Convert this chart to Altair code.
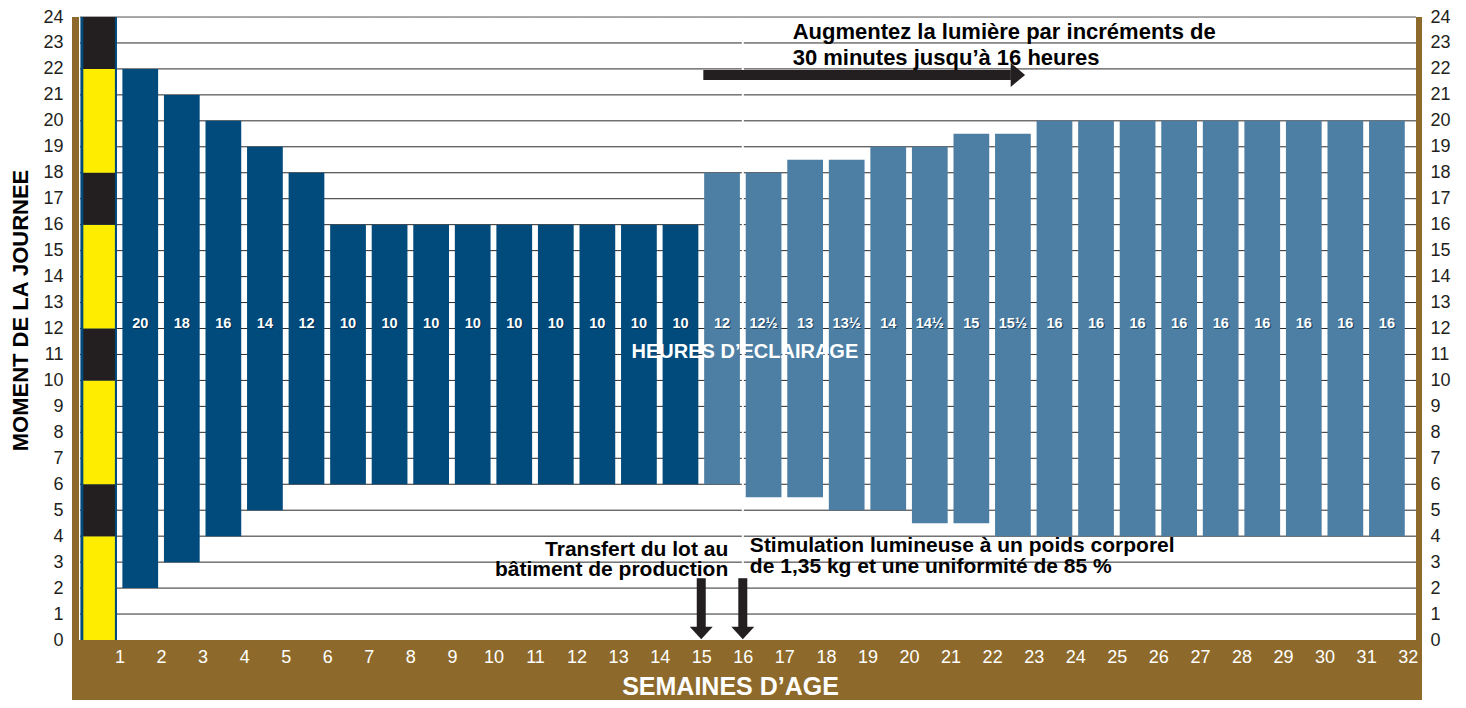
import altair as alt
import pandas as pd

# ---------------- data ----------------
weeks = list(range(1, 32))
light_on = [2, 3, 4, 5, 6, 6, 6, 6, 6, 6, 6, 6, 6, 6,
            6, 5.5, 5.5, 5, 5, 4.5, 4.5, 4,
            4, 4, 4, 4, 4, 4, 4, 4, 4]
light_off = [22, 21, 20, 19, 18, 16, 16, 16, 16, 16, 16, 16, 16, 16,
             18, 18, 18.5, 18.5, 19, 19, 19.5, 19.5,
             20, 20, 20, 20, 20, 20, 20, 20, 20]
hours_text = ["20", "18", "16", "14", "12", "10", "10", "10", "10", "10", "10", "10", "10", "10",
              "12", "12½", "13", "13½", "14", "14½", "15", "15½",
              "16", "16", "16", "16", "16", "16", "16", "16", "16"]
phase = ["Élevage"] * 14 + ["Production"] * 17

day_start = [0, 4, 6, 10, 12, 16, 18, 22]
day_end = [4, 6, 10, 12, 16, 18, 22, 24]
day_kind = ["jour", "nuit", "jour", "nuit", "jour", "nuit", "jour", "nuit"]

week_ticks = list(range(1, 33))
hour_ticks = list(range(0, 25))
grid_hours = list(range(1, 24))

top_note = ["Augmentez la lumière par incréments de", "30 minutes jusqu’à 16 heures"]
transfer_note = ["Transfert du lot au", "bâtiment de production"]
stim_note = ["Stimulation lumineuse à un poids corporel", "de 1,35 kg et une uniformité de 85 %"]

# ---------------- style ----------------
FONT = "Liberation Sans"
DARK = "#004A7C"
LIGHT = "#4D7FA5"
YELLOW = "#FFED00"
BLACK = "#231F20"
BROWN = "#8D6A2B"
BG = "#D9E0E7"

PLOT_W, PLOT_H = 1336, 623
X_MIN, X_MAX = 0.05, 32.2
Y_MIN, Y_MAX = 0, 24
xs = alt.Scale(domain=[X_MIN, X_MAX], nice=False, zero=False)
ys = alt.Scale(domain=[Y_MIN, Y_MAX], nice=False, zero=False)

x_axis = alt.Axis(values=week_ticks, format="d", labelColor="white", labelFont=FONT,
                  labelFontSize=18, labelPadding=17, labelBaseline="middle",
                  ticks=False, tickSize=0, domain=False, grid=False, labelFlush=False,
                  labelOverlap=False, zindex=2,
                  title="SEMAINES D’AGE", titleColor="white", titleFont=FONT,
                  titleFontSize=25, titleFontWeight="bold", titleX=650, titleY=46,
                  titleAlign="center", titleBaseline="middle")
left_axis = alt.Axis(orient="left", values=hour_ticks, format="d", labelColor=BLACK,
                     labelFont=FONT, labelFontSize=18, labelPadding=17,
                     ticks=False, tickSize=0, domain=False, grid=False,
                     labelOverlap=False, labelFlush=False,
                     title="MOMENT DE LA JOURNEE", titleColor="black", titleFont=FONT,
                     titleFontSize=22, titleFontWeight="bold", titleAngle=270,
                     titleX=-60, titleY=293, titleAlign="center", titleBaseline="middle")
right_axis = alt.Axis(orient="right", values=hour_ticks, format="d", labelColor=BLACK,
                      labelFont=FONT, labelFontSize=18, labelPadding=14, labelAlign="left",
                      ticks=False, tickSize=0, domain=False, grid=False,
                      labelOverlap=False, labelFlush=False, title=None)

# ---------------- background grid ----------------
vgrid = alt.Chart(pd.DataFrame({"w": week_ticks})).mark_rule(
    color="white", strokeWidth=1.5, opacity=0.9
).encode(x=alt.X("w:Q", scale=xs, axis=None))

hgrid = alt.Chart(pd.DataFrame({"h": grid_hours})).mark_rule(
    color="#2B2B2B", strokeWidth=1
).encode(y=alt.Y("h:Q", scale=ys, axis=None))

top_line = alt.Chart(pd.DataFrame({"h": [Y_MAX]})).mark_rule(
    color="#8F8F8F", strokeWidth=1.5
).encode(y=alt.Y("h:Q", scale=ys, axis=right_axis))

# ---------------- day / night strip (slot 0) ----------------
strip_df = pd.DataFrame({"slot": [0] * len(day_start), "s": day_start, "e": day_end, "k": day_kind})
strip_border = alt.Chart(pd.DataFrame({"slot": [0], "s": [Y_MIN], "e": [Y_MAX]})).transform_calculate(
    a="datum.slot + 0.062", b="datum.slot + 0.94"
).mark_rect(color=DARK).encode(
    x=alt.X("a:Q", scale=xs, axis=None), x2="b:Q",
    y=alt.Y("s:Q", scale=ys, axis=None), y2="e:Q")
strip = alt.Chart(strip_df).transform_calculate(
    a="datum.slot + 0.13", b="datum.slot + 0.89"
).mark_rect().encode(
    x=alt.X("a:Q", scale=xs, axis=None), x2="b:Q",
    y=alt.Y("s:Q", scale=ys, axis=None), y2="e:Q",
    color=alt.Color("k:N", scale=alt.Scale(domain=["jour", "nuit"], range=[YELLOW, BLACK]), legend=None))

# ---------------- bars ----------------
bars_df = pd.DataFrame({"week": weeks, "on": light_on, "off": light_off,
                        "txt": hours_text, "phase": phase})
bars = alt.Chart(bars_df).transform_calculate(
    x0="datum.week + 0.07", x1="datum.week + 0.93"
).mark_bar().encode(
    x=alt.X("x0:Q", scale=xs, axis=x_axis), x2="x1:Q",
    y=alt.Y("on:Q", scale=ys, axis=left_axis), y2="off:Q",
    color=alt.Color("phase:N", scale=alt.Scale(domain=["Élevage", "Production"], range=[DARK, LIGHT]),
                    legend=None))

label_base = alt.Chart(bars_df).transform_calculate(xc="datum.week + 0.5", ly="12.17")
label_shadow = label_base.mark_text(font=FONT, fontSize=14.5, fontWeight="bold", color="#00223A",
                                    opacity=0.6, dx=1.2, dy=1.2, baseline="middle").encode(
    x=alt.X("xc:Q", scale=xs, axis=None), y=alt.Y("ly:Q", scale=ys, axis=None), text="txt:N")
labels = label_base.mark_text(font=FONT, fontSize=14.5, fontWeight="bold", color="white",
                              baseline="middle").encode(
    x=alt.X("xc:Q", scale=xs, axis=None), y=alt.Y("ly:Q", scale=ys, axis=None), text="txt:N")

# week-16 marker line
marker = alt.Chart(pd.DataFrame({"w": [16], "a": [0.5], "b": [23.8]})).mark_rule(
    color="white", strokeWidth=2).encode(
    x=alt.X("w:Q", scale=xs, axis=None), y=alt.Y("a:Q", scale=ys, axis=None), y2="b:Q")

heures = alt.Chart(pd.DataFrame({"x": [16.05], "y": [11.1], "t": ["HEURES D’ECLAIRAGE"]})).mark_text(
    font=FONT, fontSize=20, fontWeight="bold", color="white", baseline="middle", align="center"
).encode(x=alt.X("x:Q", scale=xs, axis=None), y=alt.Y("y:Q", scale=ys, axis=None), text="t:N")

# ---------------- annotations ----------------
def note(lines, x, ys_, align, size):
    df = pd.DataFrame({"x": [x] * len(lines), "y": ys_, "t": lines})
    return alt.Chart(df).mark_text(font=FONT, fontSize=size, fontWeight="bold", color="black",
                                   baseline="alphabetic", align=align).encode(
        x=alt.X("x:Q", scale=xs, axis=None), y=alt.Y("y:Q", scale=ys, axis=None), text="t:N")

note_top = note(top_note, 17.2, [23.16, 22.16], "left", 22)
note_transfer = note(transfer_note, 15.65, [3.25, 2.45], "right", 21)
note_stim = note(stim_note, 16.17, [3.38, 2.57], "left", 21)

# arrows
h_arrow = pd.DataFrame({"x0": [15.05], "x1": [22.45], "y": [21.77], "head": [22.62]})
h_shaft = alt.Chart(h_arrow).mark_rule(color=BLACK, strokeWidth=10).encode(
    x=alt.X("x0:Q", scale=xs, axis=None), x2="x1:Q", y=alt.Y("y:Q", scale=ys, axis=None))
h_head = alt.Chart(h_arrow).mark_point(shape="M-0.6,-1L0.6,0L-0.6,1Z", size=576, filled=True,
                                       color=BLACK, opacity=1, strokeWidth=0).encode(
    x=alt.X("head:Q", scale=xs, axis=None), y=alt.Y("y:Q", scale=ys, axis=None))

v_arrows = pd.DataFrame({"x": [15, 16], "top": [2.38, 2.38], "bot": [0.45, 0.45], "head": [0.27, 0.27]})
v_shaft = alt.Chart(v_arrows).mark_rule(color=BLACK, strokeWidth=9).encode(
    x=alt.X("x:Q", scale=xs, axis=None), y=alt.Y("top:Q", scale=ys, axis=None), y2="bot:Q")
v_head = alt.Chart(v_arrows).mark_point(shape="M-1,-0.55L1,-0.55L0,0.55Z", size=529, filled=True,
                                        color=BLACK, opacity=1, strokeWidth=0).encode(
    x=alt.X("x:Q", scale=xs, axis=None), y=alt.Y("head:Q", scale=ys, axis=None))

# ---------------- brown frame ----------------
PX_X = (X_MAX - X_MIN) / PLOT_W
PX_Y = (Y_MAX - Y_MIN) / PLOT_H
frame_df = pd.DataFrame({
    "a": [X_MIN - 8 * PX_X, X_MAX, X_MIN - 8 * PX_X],
    "b": [X_MIN - 1 * PX_X, X_MAX + 6 * PX_X, X_MAX + 6 * PX_X],
    "s": [Y_MIN - 70 * PX_Y, Y_MIN - 70 * PX_Y, Y_MIN - 70 * PX_Y],
    "e": [Y_MAX, Y_MAX, Y_MIN],
})
frame = alt.Chart(frame_df).mark_rect(color=BROWN).encode(
    x=alt.X("a:Q", scale=xs, axis=None), x2="b:Q",
    y=alt.Y("s:Q", scale=ys, axis=None), y2="e:Q")

chart = alt.layer(
    vgrid, hgrid, top_line, strip_border, strip, bars, marker,
    label_shadow, labels, heures, note_top, note_transfer, note_stim,
    h_shaft, h_head, v_shaft, v_head, frame
).resolve_axis(x="independent", y="independent").resolve_scale(color="independent").properties(
    width=PLOT_W, height=PLOT_H,
    autosize=alt.AutoSizeParams(type="none"),
    padding={"left": 72, "top": 9, "right": 42, "bottom": 60},
    background="white",
).configure_view(fill=BG, stroke="transparent").configure(font=FONT)

chart.save("out.html", embed_options={"renderer": "svg", "actions": False})
